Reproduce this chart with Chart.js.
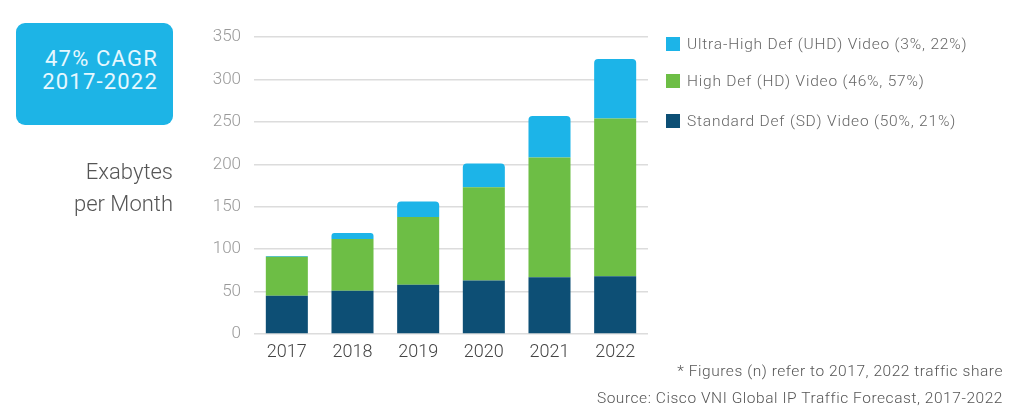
<!DOCTYPE html>
<html>
<head>
<meta charset="utf-8">
<script src="https://cdn.jsdelivr.net/npm/chart.js@4.4.1/dist/chart.umd.min.js"></script>
<style>
  html, body { margin: 0; padding: 0; background: #fff; }
  #wrap { position: relative; width: 1009px; height: 412px; overflow: hidden; font-family: Roboto, "Open Sans", sans-serif; }
  #c { position: absolute; left: 0; top: 0; }
  .box { position: absolute; left: 16px; top: 23px; width: 157px; height: 102px; background: #1db4e6; border-radius: 9px; }
  .box div { position: absolute; right: 15px; color: #e6f8ff; font-size: 22px; font-weight: 400; line-height: 1; letter-spacing: 1.2px; }
  .ylab { position: absolute; right: 836px; color: #555; font-size: 22px; font-weight: 300; line-height: 1; text-align: right; white-space: nowrap; }
  .leg { position: absolute; left: 666px; font-size: 15.5px; color: #666; font-weight: 300; line-height: 1; white-space: nowrap; letter-spacing: 0.8px; }
  .leg span { display: inline-block; width: 14px; height: 14px; vertical-align: -2px; margin-right: 7px; }
  .note { position: absolute; right: 6px; color: #555; font-size: 15.5px; font-weight: 300; line-height: 1; white-space: nowrap; letter-spacing: 0.55px; }
</style>
</head>
<body>
<div id="wrap">
  <canvas id="c" width="1009" height="412"></canvas>
  <div class="box"><div id="cagr1" style="top:25px"></div><div id="cagr2" style="top:48px"></div></div>
  <div class="ylab" style="top:161px">Exabytes</div>
  <div class="ylab" style="top:193px">per Month</div>
  <div id="legend"></div>
  <div class="note" style="top:364px">* Figures (n) refer to 2017, 2022 traffic share</div>
  <div class="note" style="top:391px">Source: Cisco VNI Global IP Traffic Forecast, 2017-2022</div>
</div>
<script>
const categories = ['2017', '2018', '2019', '2020', '2021', '2022'];
const sdValues  = [45, 51, 58, 63, 67, 68];
const hdValues  = [46, 61, 80, 110, 141, 186];
const uhdValues = [1, 7, 18, 28, 49, 70];
const yTicks = [0, 50, 100, 150, 200, 250, 300, 350];
const seriesNames = ['Ultra-High Def (UHD) Video (3%, 22%)', 'High Def (HD) Video (46%, 57%)', 'Standard Def (SD) Video (50%, 21%)'];
const seriesColors = ['#1cb4e8', '#6dbe45', '#0d4f75'];
const cagrLines = ['47% CAGR', '2017-2022'];

document.getElementById('cagr1').textContent = cagrLines[0];
document.getElementById('cagr2').textContent = cagrLines[1];

const legTops = [37, 74, 114];
const legEl = document.getElementById('legend');
seriesNames.forEach((n, i) => {
  const d = document.createElement('div');
  d.className = 'leg';
  d.style.top = legTops[i] + 'px';
  const s = document.createElement('span');
  s.style.background = seriesColors[i];
  d.appendChild(s);
  d.appendChild(document.createTextNode(n));
  legEl.appendChild(d);
});

new Chart(document.getElementById('c'), {
  type: 'bar',
  data: {
    labels: categories,
    datasets: [
      { label: 'SD', data: sdValues, backgroundColor: seriesColors[2] },
      { label: 'HD', data: hdValues, backgroundColor: seriesColors[1] },
      { label: 'UHD', data: uhdValues, backgroundColor: seriesColors[0], borderRadius: { topLeft: 4, topRight: 4, bottomLeft: 0, bottomRight: 0 }, borderSkipped: false }
    ]
  },
  options: {
    responsive: false,
    animation: false,
    events: [],
    layout: { padding: { left: 196, right: 361, top: 37, bottom: 48 } },
    plugins: { legend: { display: false }, tooltip: { enabled: false } },
    datasets: { bar: { barPercentage: 0.64, categoryPercentage: 1.0 } },
    scales: {
      x: {
        stacked: true,
        grid: { display: false, drawTicks: false },
        border: { display: false },
        ticks: { color: '#444', font: { family: 'Roboto', size: 18, weight: 300 }, padding: 8 },
        afterFit: s => { s.height = 30; }
      },
      y: {
        stacked: true,
        min: 0, max: 350,
        afterBuildTicks: s => { s.ticks = yTicks.map(v => ({ value: v })); },
        grid: { color: '#dcdcdc', lineWidth: 1.5, drawTicks: false },
        border: { display: false },
        ticks: { color: '#999', font: { family: 'Roboto', size: 17, weight: 300 }, padding: 13 },
        afterFit: s => { s.width = 58; }
      }
    }
  }
});
</script>
</body>
</html>
